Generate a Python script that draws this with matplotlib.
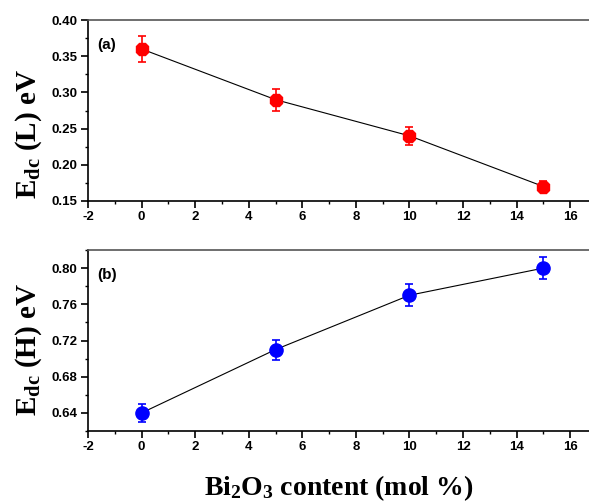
import matplotlib
matplotlib.use("Agg")
import matplotlib.pyplot as plt
from matplotlib.ticker import MultipleLocator

# =========================
# DATA
# =========================
bi2o3 = [0, 5, 10, 15]

edc_low = [0.36, 0.29, 0.24, 0.17]
edc_low_err = [0.018, 0.015, 0.012, 0.007]

edc_high = [0.64, 0.71, 0.77, 0.80]
edc_high_err = [0.010, 0.011, 0.012, 0.012]

# =========================
# STYLE
# =========================
plt.rcParams['font.family'] = ['Liberation Sans', 'DejaVu Sans']
plt.rcParams['axes.unicode_minus'] = False
plt.rcParams['mathtext.fontset'] = 'custom'
plt.rcParams['mathtext.rm'] = 'Liberation Serif:bold'
plt.rcParams['mathtext.it'] = 'Liberation Serif:bold'
plt.rcParams['mathtext.bf'] = 'Liberation Serif:bold'

fig = plt.figure(figsize=(5.89, 5.03), dpi=100)
ax1 = fig.add_axes([0.1494, 0.6004, 0.8506, 0.3598])
ax2 = fig.add_axes([0.1494, 0.1431, 0.8506, 0.3599])


def style_axis(ax):
    ax.set_xlim(-2, 16.7)
    ax.xaxis.set_major_locator(MultipleLocator(2))
    ax.xaxis.set_minor_locator(MultipleLocator(1))
    ax.tick_params(which='major', direction='out', length=5, width=1.2,
                   labelsize=9.5, pad=2.5, top=False, right=False)
    ax.tick_params(which='minor', direction='out', length=2.5, width=1.0,
                   top=False, right=False)
    for lab in ax.get_xticklabels() + ax.get_yticklabels():
        lab.set_fontweight('bold')
    ax.spines['right'].set_visible(False)
    ax.spines['top'].set_color('#555555')
    for s in ['left', 'bottom', 'top']:
        ax.spines[s].set_linewidth(1.2)


# =========================
# PANEL (a)
# =========================
ax1.plot(bi2o3, edc_low, color='black', lw=0.8, zorder=1)
ax1.errorbar(bi2o3, edc_low, yerr=edc_low_err, fmt='8', color='red',
             ms=9.5, capsize=3, elinewidth=1.2, capthick=1.2, zorder=3)
ax1.set_ylim(0.15, 0.40)
ax1.yaxis.set_major_locator(MultipleLocator(0.05))
ax1.yaxis.set_minor_locator(MultipleLocator(0.025))
ax1.yaxis.set_major_formatter(plt.FormatStrFormatter('%.2f'))
style_axis(ax1)
ax1.set_ylabel(r'E$_{\mathregular{dc}}$ (L) eV', family='Liberation Serif',
               fontweight='bold', fontsize=21)
ax1.yaxis.set_label_coords(-0.088, 0.37)
ax1.text(0.018, 0.84, '(a)', transform=ax1.transAxes, fontsize=11,
         fontweight='bold')

# =========================
# PANEL (b)
# =========================
ax2.plot(bi2o3, edc_high, color='black', lw=0.8, zorder=1)
ax2.errorbar(bi2o3, edc_high, yerr=edc_high_err, fmt='o', color='blue',
             ms=9.5, capsize=3, elinewidth=1.2, capthick=1.2, zorder=3)
ax2.set_ylim(0.62, 0.82)
ax2.yaxis.set_major_locator(MultipleLocator(0.04))
ax2.yaxis.set_minor_locator(MultipleLocator(0.02))
ax2.yaxis.set_major_formatter(plt.FormatStrFormatter('%.2f'))
style_axis(ax2)
ax2.set_ylabel(r'E$_{\mathregular{dc}}$ (H) eV', family='Liberation Serif',
               fontweight='bold', fontsize=21)
ax2.yaxis.set_label_coords(-0.088, 0.45)
ax2.text(0.018, 0.84, '(b)', transform=ax2.transAxes, fontsize=11,
         fontweight='bold')
ax2.set_xlabel(r'Bi$_{\mathregular{2}}$O$_{\mathregular{3}}$ content (mol %)',
               family='Liberation Serif', fontweight='bold', fontsize=20)
ax2.xaxis.set_label_coords(0.5, -0.235)

fig.savefig("out.png", dpi=100)
